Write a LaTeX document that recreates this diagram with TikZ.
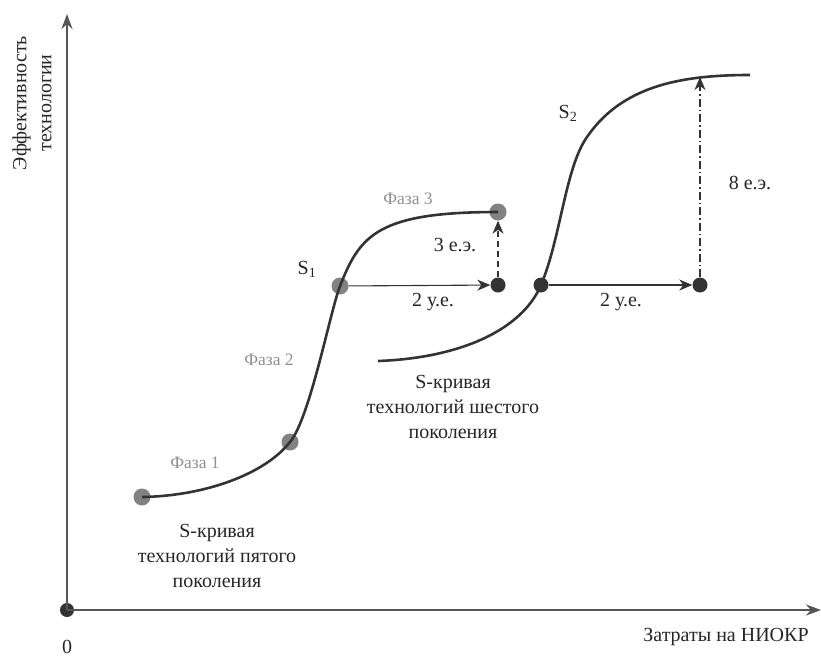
\documentclass[tikz,border=0pt]{standalone}
\usepackage{fontspec}
\setmainfont{Liberation Serif}
\usetikzlibrary{arrows.meta,positioning}
\definecolor{curvegray}{HTML}{333333}
\definecolor{dotgray}{HTML}{828282}
\definecolor{phasegray}{HTML}{8F8F8F}
\definecolor{axisgray}{HTML}{555555}

\begin{document}
\begin{tikzpicture}[x=1pt, y=-1pt,
  axis/.style={line width=2pt, draw=axisgray, -{Stealth[length=15pt,width=11pt]}},
  scurve/.style={line width=2.6pt, draw=curvegray},
  phasedot/.style={circle, fill=dotgray, minimum size=17pt, inner sep=0pt},
  stepdot/.style={circle, fill=curvegray, minimum size=15pt, inner sep=0pt},
  shiftarrow/.style={line width=1.1pt, draw=curvegray, -{Stealth[length=13pt,width=11pt,inset=4pt]}},
  txt/.style={font=\fontsize{20}{25}\selectfont, text=black!85, align=center, inner sep=0pt},
  phase/.style={font=\fontsize{17.5}{20}\selectfont, text=phasegray, inner sep=0pt}]
 \useasboundingbox (0,0) rectangle (821,659);

 % Axes
 \node[stepdot, minimum size=14pt] (o) at (67,610) {};
 \coordinate (ytip) at (67,14);
 \coordinate (xtip) at (821,610);
 \draw[axis] (o.center) -- (ytip);
 \draw[axis] (o.center) -- (xtip);
 \node[txt] (zero) at (67,647) {0};
 \node[txt] (xlabel) at (726,637) {Затраты на НИОКР};
 \node[txt, rotate=90] (ylabel) at (32,103) {Эффективность\\технологии};

 % First S-curve
 \node[phasedot] (a0) at (142,497) {};
 \node[phasedot] (a1) at (290,442) {};
 \node[phasedot] (a2) at (340,286) {};
 \node[phasedot] (a3) at (498,212) {};
 \draw[scurve] (a0.center) .. controls (205,496) and (265,474) .. (a1.center)
   .. controls (310,418) and (330,312) .. (a2.center)
   .. controls (360,235) and (378,212) .. (a3.center);
 \node[phase] (ph1) at (195,463) {Фаза 1};
 \node[phase] (ph2) at (269,360) {Фаза 2};
 \node[phase] (ph3) at (408,199) {Фаза 3};
 \node[txt] (s1) at (307,269) {S\textsubscript{1}};
 \node[txt] (gen5) at (217,556) {S-кривая\\технологий пятого\\поколения};

 % Second S-curve
 \coordinate (b0) at (378,361);
 \node[stepdot] (b1) at (541,285) {};
 \coordinate (b2) at (750,75);
 \draw[scurve] (b0) .. controls (460,358) and (522,330) .. (b1.center)
   .. controls (560,240) and (565,172) .. (585,140)
   .. controls (620,86) and (680,75) .. (b2);
 \node[txt] (s2) at (568,113) {S\textsubscript{2}};
 \node[txt] (gen6) at (453,407) {S-кривая\\технологий шестого\\поколения};

 % Shifts
 \node[stepdot] (c1) at (498,285) {};
 \node[stepdot] (c2) at (700,285) {};
 \coordinate (c2top) at (700,77);
 \draw[shiftarrow] (a2) -- (c1);
 \draw[shiftarrow] (b1) -- (c2);
 \draw[shiftarrow, dash pattern=on 6pt off 4pt] (c1) -- (a3);
 \draw[shiftarrow, dash pattern=on 8pt off 3pt on 1.5pt off 3pt] (c2) -- (c2top);
 \node[txt] (cost1) at (433,302) {2 у.е.};
 \node[txt] (cost2) at (621,302) {2 у.е.};
 \node[txt] (gain1) at (455,245) {3 е.э.};
 \node[txt] (gain2) at (750,183) {8 е.э.};
\end{tikzpicture}
\end{document}
